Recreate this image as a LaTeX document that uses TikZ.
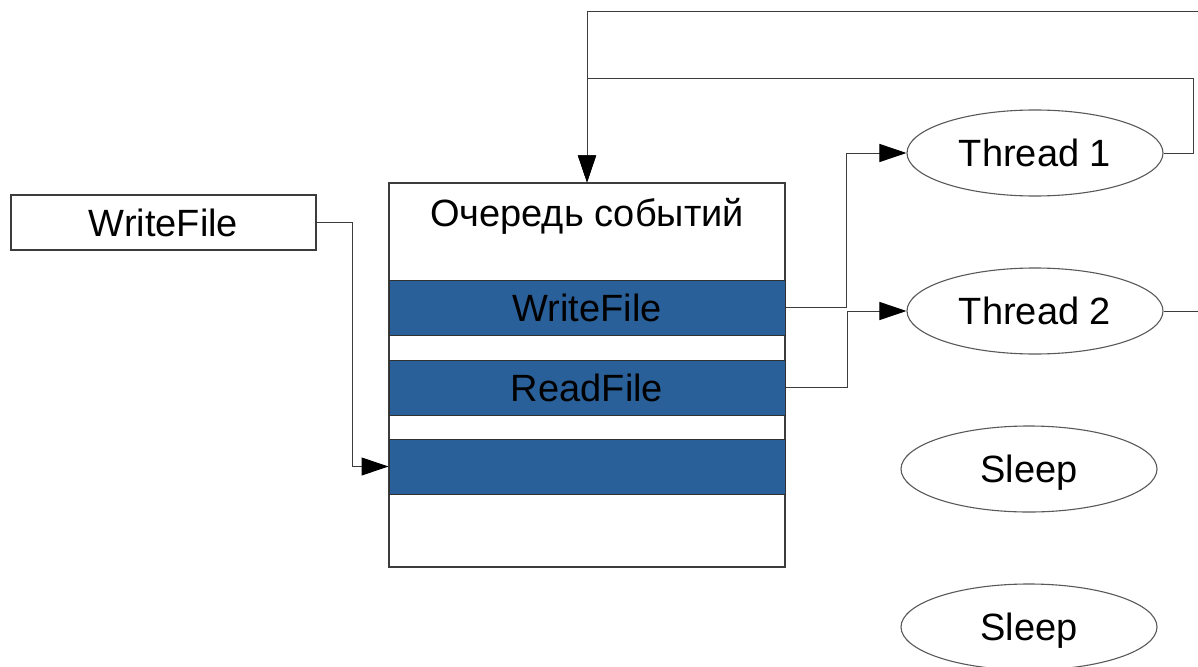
\documentclass[tikz,border=0pt]{standalone}
\usepackage{fontspec}
\setmainfont{Liberation Sans}
\usetikzlibrary{arrows.meta,shapes.geometric}
\definecolor{bandblue}{HTML}{2A6099}
\definecolor{linegray}{HTML}{3C3C3C}
\begin{document}
\begin{tikzpicture}[x=1pt,y=-1pt,
  lbl/.style={font=\fontsize{38}{44}\selectfont, text height=27pt, text depth=0pt, inner sep=0pt},
  box/.style={draw=linegray, line width=1.1pt, fill=white, inner sep=0pt},
  band/.style={draw=linegray!80!black, line width=1pt, fill=bandblue, minimum width=396pt, minimum height=55pt, inner sep=0pt, lbl},
  task/.style={ellipse, draw=black!65, line width=1.1pt, minimum width=256pt, minimum height=86pt, inner sep=0pt, lbl},
  conn/.style={draw=linegray, line width=1pt},
  arr/.style={conn, -{Triangle[length=27pt,width=18pt,color=black,fill=black]}}]
\useasboundingbox (0,0) rectangle (1198,666);
\clip (0,0) rectangle (1198,666);
\fill[white] (0,0) rectangle (1198,666);

% incoming request
\node[box, lbl, minimum width=305pt, minimum height=55pt] (wf) at (163.5,222.5) {WriteFile};

% event queue with its slots
\node[box, minimum width=396pt, minimum height=384pt] (queue) at (587,375) {};
\node[lbl] (title) at (587,213) {Очередь событий};
\node[band] (b1) at (587,307.5) {WriteFile};
\node[band] (b2) at (587,387.5) {ReadFile};
\node[band] (b3) at (587,466.5) {};

% worker threads
\node[task] (t1) at (1035,153) {Thread 1};
\node[task] (t2) at (1035,311) {Thread 2};
\node[task] (s1) at (1029,469) {Sleep};
\node[task] (s2) at (1029,627) {Sleep};

% return paths back to the queue
\coordinate (loopA) at (587,79);
\coordinate (loopB) at (587,12);
\coordinate (farR) at (1230,311);

% connectors
\draw[arr] (wf.east) -- ++(36,0) |- (b3.west);
\draw[arr] (b1.east) -- ++(61,0) |- (t1.west);
\draw[arr] (b2.east) -- ++(62,0) |- (t2.west);
\draw[arr] (t1.east) -- ++(30,0) |- (loopA) -- (queue.north);
\draw[arr] (t2.east) -- (farR) |- (loopB) -- (queue.north);
\end{tikzpicture}
\end{document}
